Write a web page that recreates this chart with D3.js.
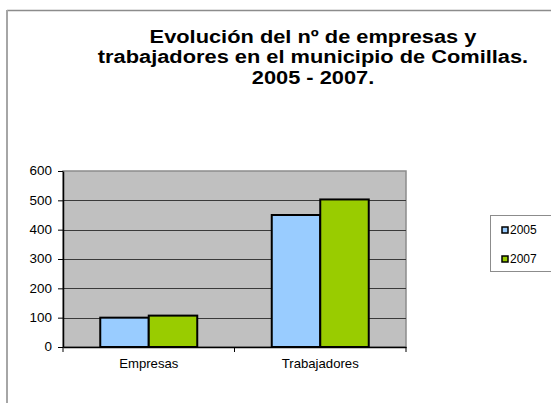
<!DOCTYPE html>
<html lang="es">
<head>
    <meta charset="UTF-8">
    <title>Evolución del nº de empresas y trabajadores</title>
    <style>
        body, html {
            margin: 0;
            padding: 0;
            background: #fff;
            font-family: Arial, "Liberation Sans", sans-serif;
        }
        svg { display: block; }
        .axis text { font-size: 12px; fill: #000; font-family: Arial, "Liberation Sans", sans-serif; }
        .axis path, .axis line { stroke: #000; }
    </style>
    <script src="https://d3js.org/d3.v7.min.js"></script>
</head>
<body>
    <div id="chart"></div>
    <script>
        const categories = ["Empresas", "Trabajadores"];
        const years = ["2005", "2007"];
        const values2005 = [100, 450];
        const values2007 = [107, 503];
        const yTicks = [0, 100, 200, 300, 400, 500, 600];
        const titleLines = [
            "Evolución del nº de empresas y",
            "trabajadores en el municipio de Comillas.",
            "2005 - 2007."
        ];

        const seriesValues = [values2005, values2007];
        const colors = ["#99ccff", "#99cc00"];

        const width = 551, height = 403;
        const plot = { left: 63, right: 406, top: 171, bottom: 347 };
        const stretch = 1.12; // the original text is a bit wider than Arial

        const svg = d3.select("#chart").append("svg")
            .attr("width", width)
            .attr("height", height);

        // outer chart frame (top and left only visible)
        svg.append("line")
            .attr("x1", 7).attr("x2", width).attr("y1", 10.5).attr("y2", 10.5)
            .attr("stroke", "#8c8c8c").attr("stroke-width", 1.5);
        svg.append("line")
            .attr("x1", 7).attr("x2", 7).attr("y1", 10).attr("y2", height)
            .attr("stroke", "#a6a6a6").attr("stroke-width", 2);

        // title, stretched horizontally around its centre
        svg.append("g")
            .attr("transform", "translate(313,0) scale(1.18,1)")
            .append("text")
            .attr("y", 43)
            .attr("text-anchor", "middle")
            .style("font-size", "18.5px")
            .style("font-weight", "bold")
            .selectAll("tspan")
            .data(titleLines)
            .enter().append("tspan")
            .attr("x", 0)
            .attr("dy", (d, i) => i === 0 ? 0 : 20.5)
            .text(d => d);

        const x0 = d3.scaleBand()
            .domain(categories)
            .range([plot.left, plot.right]);

        const groupWidth = 97;
        const x1 = d3.scaleBand()
            .domain(years)
            .range([0, groupWidth]);

        const y = d3.scaleLinear()
            .domain([0, 600])
            .range([plot.bottom, plot.top]);

        // plot background
        svg.append("rect")
            .attr("x", plot.left)
            .attr("y", plot.top)
            .attr("width", plot.right - plot.left)
            .attr("height", plot.bottom - plot.top)
            .attr("fill", "#c0c0c0")
            .attr("stroke", "#8c8c8c")
            .attr("stroke-width", 1.5);

        // gridlines
        svg.append("g")
            .selectAll("line")
            .data(yTicks.filter(t => t > 0 && t < 600))
            .enter().append("line")
            .attr("x1", plot.left).attr("x2", plot.right)
            .attr("y1", d => Math.round(y(d)) + 0.5)
            .attr("y2", d => Math.round(y(d)) + 0.5)
            .attr("stroke", "#3a3a3a")
            .attr("stroke-width", 1);

        // bars
        const groups = svg.append("g")
            .selectAll("g")
            .data(categories)
            .enter().append("g")
            .attr("transform", d => `translate(${x0(d) + (x0.bandwidth() - groupWidth) / 2},0)`);

        groups.selectAll("rect")
            .data((c, ci) => years.map((yr, si) => ({ yr, si, v: seriesValues[si][ci] })))
            .enter().append("rect")
            .attr("x", d => x1(d.yr))
            .attr("y", d => y(d.v))
            .attr("width", x1.bandwidth())
            .attr("height", d => plot.bottom - y(d.v))
            .attr("fill", d => colors[d.si])
            .attr("stroke", "#000")
            .attr("stroke-width", 2);

        // y axis
        const yAxis = svg.append("g")
            .attr("class", "axis")
            .attr("transform", `translate(${plot.left},0)`)
            .call(d3.axisLeft(y).tickValues(yTicks).tickSize(5).tickPadding(6).tickSizeOuter(0));
        yAxis.select(".domain").attr("stroke", "#555").attr("stroke-width", 1.5);
        yAxis.selectAll(".tick text")
            .attr("x", -11 / stretch)
            .attr("transform", `scale(${stretch},1)`);

        // x axis
        const xAxis = svg.append("g")
            .attr("class", "axis")
            .attr("transform", `translate(0,${plot.bottom})`)
            .call(d3.axisBottom(x0).tickSize(0).tickPadding(12));
        xAxis.select(".domain").attr("stroke", "#555").attr("stroke-width", 1.5);
        xAxis.selectAll(".tick text")
            .attr("transform", `scale(${stretch * 0.98},1)`);
        xAxis.selectAll(".tickmark")
            .data([plot.left, x0("Trabajadores"), plot.right])
            .enter().append("line")
            .attr("x1", d => d).attr("x2", d => d)
            .attr("y1", 0).attr("y2", 5)
            .attr("stroke", "#555");

        // legend
        const legend = svg.append("g");
        legend.append("rect")
            .attr("x", 490.5).attr("y", 215.5)
            .attr("width", 62).attr("height", 56)
            .attr("fill", "#fff")
            .attr("stroke", "#8c8c8c");
        const legendRows = legend.selectAll(".row")
            .data(years)
            .enter().append("g")
            .attr("transform", (d, i) => `translate(502, ${230 + i * 29})`);
        legendRows.append("rect")
            .attr("x", 0).attr("y", -3)
            .attr("width", 6).attr("height", 6)
            .attr("fill", (d, i) => colors[i])
            .attr("stroke", "#000")
            .attr("stroke-width", 1.5);
        legendRows.append("text")
            .attr("x", 8)
            .attr("y", 4)
            .style("font-size", "12px")
            .text(d => d);
    </script>
</body>
</html>
